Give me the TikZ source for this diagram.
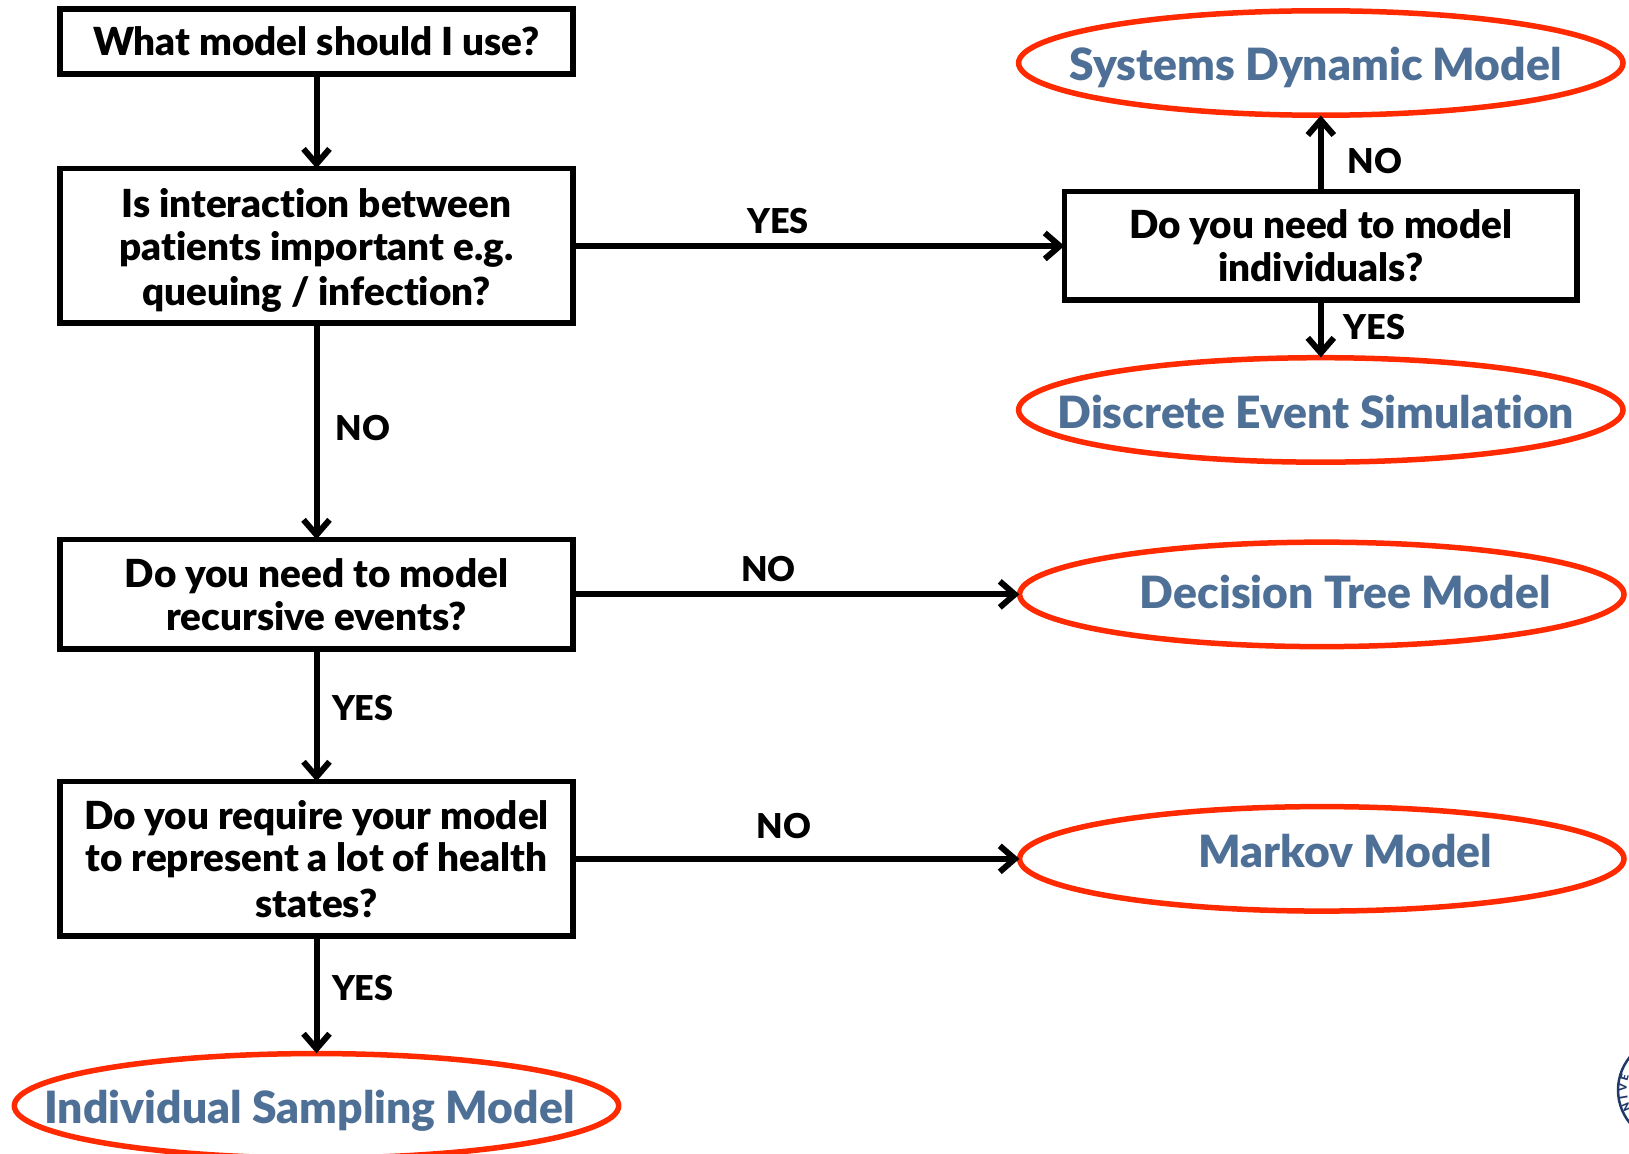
\documentclass[tikz,border=0pt]{standalone}
\usepackage{fontspec}
\setmainfont{Lato}[BoldFont={Lato Black},Ligatures=NoCommon]
\usepackage{xcolor}
\usepackage{tikz}
\usetikzlibrary{shapes,shapes.geometric,arrows,arrows.meta,positioning,calc}
\definecolor{modelred}{HTML}{FF2A00}
\definecolor{modelblue}{HTML}{4F7096}
\definecolor{sealblue}{HTML}{1F3A68}

\begin{document}
\begin{tikzpicture}[
    x=0.02cm, y=-0.02cm,
    font=\fontsize{22}{24.3}\selectfont\bfseries,
    line width=0.11cm,
    >={Straight Barb[length=0.3cm,width=0.52cm]},
    box/.style={rectangle, draw, minimum width=10.27cm, inner sep=0pt, align=center},
    model/.style={ellipse, draw=modelred, minimum width=12.09cm, minimum height=2.09cm, inner sep=0pt},
    modeltext/.style={text=modelblue, inner sep=0pt, font=\fontsize{25.3}{28}\selectfont\bfseries},
    answer/.style={inner sep=0pt, font=\fontsize{19.5}{22}\selectfont\bfseries},
    arrow/.style={->, line cap=round, line width=0.12cm, shorten >=-0.05cm}
]
    \path[use as bounding box, clip] (0,0) rectangle (1629,1153);

    % Left column
    \node[box, minimum height=1.31cm] (start) at (316.5,41.5) {What model should I use?};
    \node[box, minimum height=3.09cm, below=1.78cm of start] (interact) {\rule{0pt}{21.5pt}Is interaction between\\patients important e.g.\\[1.5pt]queuing / infection?};
    \node[box, minimum height=2.19cm, below=4.22cm of interact] (recur) {Do you need to model\\recursive events?};
    \node[box, minimum height=3.09cm, below=2.54cm of recur] (states) {Do you require your model\\to represent a lot of health\\[1.5pt]states?};
    \node[model, below=2.24cm of states] (sampling) {};
    \node[modeltext, xshift=-0.14cm, yshift=-0.1cm] (samplingtext) at (sampling) {Individual Sampling Model};

    % Right column
    \node[box, minimum width=10.25cm, minimum height=2.17cm, right=9.72cm of interact] (indiv) {Do you need to model\\individuals?};
    \node[model, above=1.42cm of indiv] (sysdyn) {};
    \node[model, below=1.04cm of indiv] (des) {};
    \node[model, right=8.82cm of recur] (tree) {};
    \node[model, right=8.82cm of states] (markov) {};
    \node[modeltext, xshift=-0.1cm, yshift=-0.08cm] (sysdyntext) at (sysdyn) {Systems Dynamic Model};
    \node[modeltext, xshift=-0.1cm, yshift=-0.04cm] (destext) at (des) {Discrete Event Simulation};
    \node[modeltext, xshift=0.47cm, yshift=0.04cm] (treetext) at (tree) {Decision Tree Model};
    \node[modeltext, xshift=0.47cm, yshift=0.16cm] (markovtext) at (markov) {Markov Model};

    \draw[arrow] (start) -- (interact);
    \draw[arrow] (interact) -- node[answer, pos=0.485, right=0.32cm] (a1) {NO} (recur);
    \draw[arrow] (recur) -- node[answer, pos=0.44, right=0.25cm] (a2) {YES} (states);
    \draw[arrow] (states) -- node[answer, pos=0.437, right=0.25cm] (a3) {YES} (sampling);
    \draw[arrow] (interact) -- node[answer, pos=0.416, above=0.18cm] (a4) {YES} (indiv);
    \draw[arrow] (recur) -- node[answer, pos=0.437, above=0.2cm] (a5) {NO} (tree);
    \draw[arrow] (states) -- node[answer, pos=0.472, above=0.34cm] (a6) {NO} (markov);
    \draw[arrow] (indiv) -- node[answer, pos=0.4, right=0.48cm] (a7) {NO} (sysdyn);
    \draw[arrow] (indiv) -- node[answer, pos=0.46, right=0.4cm] (a8) {YES} (des);

    % Seal cut off by the page edge
    \node[circle, draw=sealblue, line width=0.05cm, minimum size=2.08cm, inner sep=0pt] (seal) at (1670,1090) {};
    \foreach \letter/\ang/\ypos in {N/113/1107, I/100/1098, V/87/1088, E/74/1078}
        \node[text=sealblue, inner sep=0pt, rotate=\ang, font=\fontsize{6}{7}\selectfont\bfseries] (seal\letter) at ({1670-sqrt(47*47-(\ypos-1090)*(\ypos-1090))},\ypos) {\letter};
\end{tikzpicture}
\end{document}
